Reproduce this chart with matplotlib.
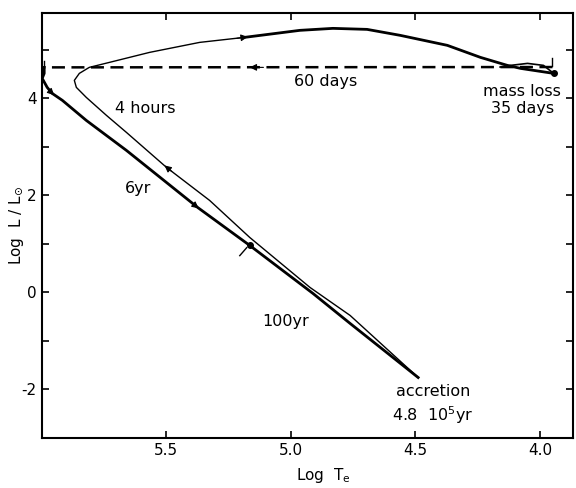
import numpy as np
import matplotlib
matplotlib.use("Agg")
import matplotlib.pyplot as plt

plt.rcParams["axes.unicode_minus"] = False

# thin branch: rise from accretion point up to the top of the loop
rise_logT = [4.489, 4.762, 4.923, 5.165, 5.326, 5.499, 5.660, 5.740, 5.821, 5.861,
             5.869, 5.849, 5.809, 5.728, 5.567, 5.366, 5.185]
rise_logL = [-1.759, -0.480, 0.097, 1.128, 1.891, 2.571, 3.293, 3.643, 4.014, 4.221,
             4.365, 4.509, 4.633, 4.736, 4.942, 5.148, 5.252]

# thick top branch towards mass loss
top_logT = [5.185, 4.964, 4.831, 4.694, 4.561, 4.372, 4.239, 4.131, 4.078, 3.945]
top_logL = [5.252, 5.396, 5.437, 5.416, 5.293, 5.087, 4.839, 4.674, 4.612, 4.509]

# small loop back onto the dashed line
loop_logT = [3.945, 3.986, 4.050, 4.118, 4.160]
loop_logL = [4.509, 4.674, 4.715, 4.674, 4.640]

# dashed return (60 days)
dash_logT = [3.950, 5.990]
dash_logL = [4.640, 4.633]

# thick decline back down to accretion
fall_logT = [5.990, 5.990, 5.998, 5.978, 5.958, 5.917, 5.821, 5.660, 5.374, 5.165,
             4.911, 4.762, 4.489]
fall_logL = [4.633, 4.509, 4.406, 4.221, 4.097, 3.953, 3.540, 2.922, 1.746, 0.963,
             -0.027, -0.645, -1.759]

# arrows as (tail, head)
arrows = [((5.478, 2.488), (5.507, 2.612)),
          ((5.402, 1.860), (5.370, 1.726)),
          ((5.217, 5.231), (5.173, 5.262)),
          ((5.110, 4.633), (5.165, 4.633)),
          ((5.972, 4.170), (5.950, 4.060))]

labels = [("60 days", 4.859, 4.344, "center"),
          ("4 hours", 5.583, 3.788, "center"),
          ("6yr", 5.615, 2.138, "center"),
          ("100yr", 5.020, -0.604, "center"),
          ("accretion", 4.428, -2.047, "center"),
          ("4.8  10$^5$yr", 4.430, -2.542, "center"),
          ("mass loss", 4.074, 4.138, "center"),
          ("35 days", 4.068, 3.788, "center")]

fig = plt.figure(figsize=(5.76, 4.88), dpi=100)
ax = fig.add_axes([0.0724, 0.103, 0.9226, 0.870])

ax.plot(rise_logT, rise_logL, color="black", lw=1.0)
ax.plot(top_logT, top_logL, color="black", lw=2.0, solid_capstyle="round")
ax.plot(loop_logT, loop_logL, color="black", lw=1.2)
ax.plot(dash_logT, dash_logL, color="black", lw=1.8, dashes=(5.2, 2.6))
ax.plot(fall_logT, fall_logL, color="black", lw=2.0, solid_joinstyle="round")

for tail, head in arrows:
    ax.annotate("", xy=head, xytext=tail,
                arrowprops=dict(arrowstyle="-|>", color="black", lw=0.8,
                                mutation_scale=10, shrinkA=0, shrinkB=0))

# dots and small marks
ax.plot([5.165, 3.945], [0.963, 4.509], "o", color="black", ms=4)
ax.plot([5.205, 5.177], [0.753, 0.918], color="black", lw=1.0)
ax.plot([5.990, 5.990], [4.67, 4.77], color="black", lw=1.0)
ax.plot([3.950, 3.950], [4.67, 4.82], color="black", lw=1.0)

for txt, x, y, ha in labels:
    ax.text(x, y, txt, fontsize=11.5, ha=ha, va="center")

ax.set_xlim(6.0, 3.867)
ax.set_ylim(-3.0, 5.75)
ax.set_xticks([5.5, 5.0, 4.5, 4.0])
ax.set_xticklabels(["5.5", "5.0", "4.5", "4.0"])
ax.set_yticks([-2, 0, 2, 4])
ax.set_yticks([-3, -1, 1, 3, 5], minor=True)
ax.tick_params(which="both", direction="in", top=True, right=True,
               length=5, width=1.2, labelsize=11)
for s in ax.spines.values():
    s.set_linewidth(1.5)

ax.set_xlabel("Log  T$_\\mathrm{e}$", fontsize=11)
ax.xaxis.set_label_coords(0.53, -0.066)
ax.set_ylabel("Log  L / L$_{\\odot}$", fontsize=11)
ax.yaxis.set_label_coords(-0.030, 0.50)

fig.savefig("out.png", dpi=100)
